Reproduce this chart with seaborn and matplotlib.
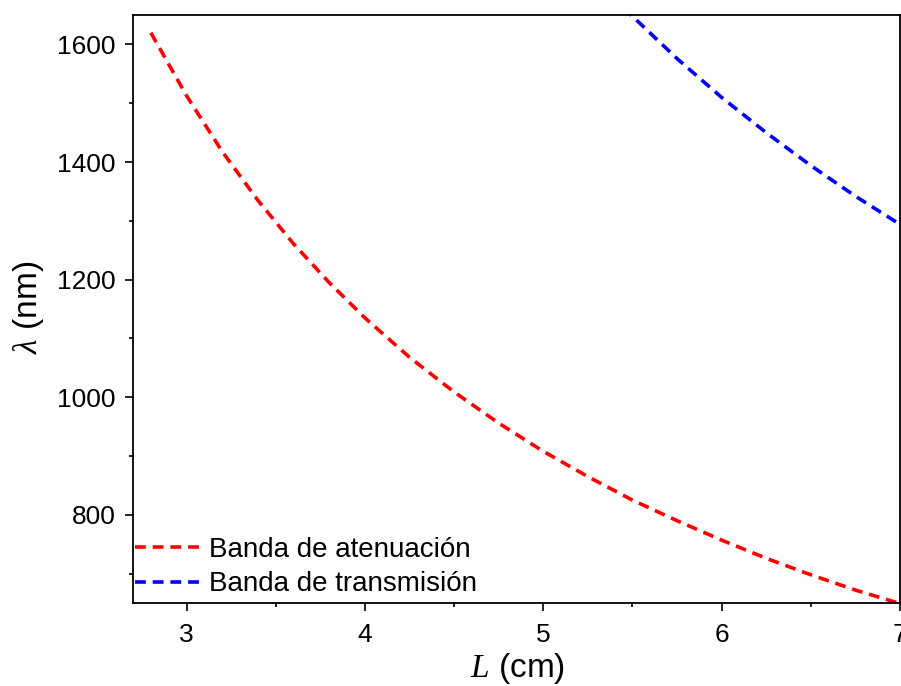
import matplotlib
matplotlib.use("Agg")
import matplotlib.pyplot as plt
from matplotlib.ticker import MultipleLocator
import seaborn as sns
import pandas as pd

# Cut-off wavelength versus length for the two bands
L_atenuacion = [2.8, 3.0, 3.2, 3.4, 3.6, 3.8, 4.0, 4.25, 4.5, 4.75, 5.0,
                5.25, 5.5, 5.75, 6.0, 6.25, 6.5, 6.75, 7.0]
lam_atenuacion = [1620, 1513, 1418, 1335, 1261, 1195, 1135, 1068, 1009, 956, 908,
                  865, 825, 790, 757, 726, 698, 672, 649]

L_transmision = [5.45, 5.5, 5.75, 6.0, 6.25, 6.5, 6.75, 7.0]
lam_transmision = [1662, 1648, 1576, 1510, 1450, 1394, 1342, 1294]

etiquetas = ["Banda de atenuación", "Banda de transmisión"]
colores = ["#ff0000", "#0000ff"]

sns.set_style("ticks")
plt.rcParams["font.family"] = ["Liberation Sans", "DejaVu Sans"]
plt.rcParams["mathtext.fontset"] = "custom"
plt.rcParams["mathtext.it"] = "Liberation Serif:italic"
plt.rcParams["mathtext.rm"] = "Liberation Serif"
plt.rcParams["text.color"] = "black"
plt.rcParams["axes.labelcolor"] = "black"
plt.rcParams["xtick.color"] = "black"
plt.rcParams["ytick.color"] = "black"
plt.rcParams["axes.edgecolor"] = "black"

df_a = pd.DataFrame({"L": L_atenuacion, "lam": lam_atenuacion})
df_t = pd.DataFrame({"L": L_transmision, "lam": lam_transmision})

fig = plt.figure(figsize=(9.01, 6.86), dpi=100)
ax = fig.add_axes([0.1476, 0.121, 0.8513, 0.857])

for df, lab, col in [(df_a, etiquetas[0], colores[0]), (df_t, etiquetas[1], colores[1])]:
    sns.lineplot(data=df, x="L", y="lam", ax=ax, color=col, label=lab,
                 linewidth=2.6, sort=False)
for line in ax.get_lines():
    line.set_dashes((3.0, 1.9))

ax.set_xlim(2.7, 7.0)
ax.set_ylim(650, 1650)
ax.xaxis.set_major_locator(MultipleLocator(1))
ax.xaxis.set_minor_locator(MultipleLocator(0.5))
ax.yaxis.set_major_locator(MultipleLocator(200))
ax.yaxis.set_minor_locator(MultipleLocator(100))
ax.tick_params(which="major", direction="out", length=5.5, width=1.2,
               labelsize=19, top=False, right=False)
ax.tick_params(axis="x", which="major", pad=9)
ax.tick_params(axis="y", which="major", pad=7)
ax.tick_params(which="minor", direction="out", length=3, width=1.2,
               top=False, right=False)
for s in ax.spines.values():
    s.set_linewidth(1.3)
    s.set_visible(True)

ax.set_xlabel(r"$L$ (cm)", fontsize=24)
ax.set_ylabel(r"$\lambda$ (nm)", fontsize=24)
ax.xaxis.set_label_coords(0.5007, -0.082)
ax.yaxis.set_label_coords(-0.113, 0.502)

leg = ax.legend(loc="lower left", bbox_to_anchor=(-0.004, 0.0), frameon=False,
                fontsize=20, handlelength=2.3, handletextpad=0.36,
                labelspacing=0.3, borderaxespad=0, borderpad=0.2)
for h in leg.get_lines():
    h.set_dashes((3.0, 1.9))
    h.set_linewidth(2.6)

fig.savefig("out.png", dpi=100)
